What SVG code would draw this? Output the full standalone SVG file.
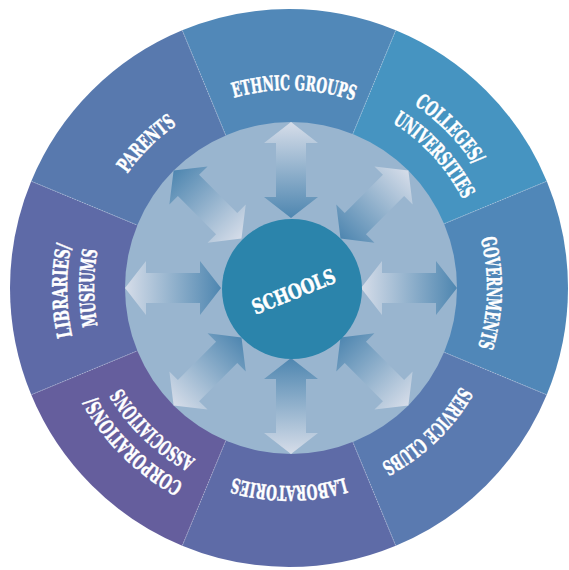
<svg xmlns="http://www.w3.org/2000/svg" xmlns:xlink="http://www.w3.org/1999/xlink" width="569" height="570" viewBox="0 0 569 570">
  <style>
    .lbl { font-family: "DejaVu Serif Condensed", "DejaVu Serif", serif; font-weight: bold; font-stretch: condensed; font-size: 20.5px; fill: #ffffff; stroke: #ffffff; stroke-width: 0.5; text-anchor: middle; }
    .sep { stroke: #d5deec; stroke-opacity: 0.55; stroke-width: 0.8; stroke-dasharray: 1.5 1.2; fill: none; }
  </style>
  <defs>
    <!-- double-loop clockwise circles (start at top) used as text baselines -->
    <path id="c198" d="M289,90 A198,198 0 0 1 289,486 A198,198 0 0 1 289,90 A198,198 0 0 1 289,486 A198,198 0 0 1 289,90"/>
    <path id="c222" d="M289,66 A222,222 0 0 1 289,510 A222,222 0 0 1 289,66 A222,222 0 0 1 289,510 A222,222 0 0 1 289,66"/>
    <path id="c195" d="M289,93 A195,195 0 0 1 289,483 A195,195 0 0 1 289,93 A195,195 0 0 1 289,483 A195,195 0 0 1 289,93"/>
    <!-- double-headed radial arrow, drawn pointing up -->
    <polygon id="arrow" points="291,122 318,143 306,143 306,197 318,197 291,218 264,197 276,197 276,143 264,143"/>
    <linearGradient id="outLight" gradientUnits="userSpaceOnUse" x1="291" y1="122" x2="291" y2="218">
      <stop offset="0" stop-color="#d6dde9"/>
      <stop offset="1" stop-color="#4e86b0"/>
    </linearGradient>
    <linearGradient id="outDark" gradientUnits="userSpaceOnUse" x1="291" y1="122" x2="291" y2="218">
      <stop offset="0" stop-color="#4e86b0"/>
      <stop offset="1" stop-color="#d6dde9"/>
    </linearGradient>
  </defs>

  <!-- outer ring sectors -->
  <g id="ethnic-groups">
    <path d="M289,288 L182.23,30.24 A279,279 0 0 1 395.77,30.24 Z" fill="#5188b8"/>
    <text class="lbl"><textPath href="#c198" startOffset="50.2%" textLength="122" lengthAdjust="spacingAndGlyphs">ETHNIC GROUPS</textPath></text>
  </g>
  <g id="colleges-universities">
    <path d="M289,288 L395.77,30.24 A279,279 0 0 1 546.76,181.23 Z" fill="#4694c1"/>
    <text class="lbl"><textPath href="#c222" startOffset="56.3%" textLength="86" lengthAdjust="spacingAndGlyphs">COLLEGES/</textPath></text>
    <text class="lbl"><textPath href="#c195" startOffset="56.6%" textLength="106" lengthAdjust="spacingAndGlyphs">UNIVERSITIES</textPath></text>
  </g>
  <g id="governments">
    <path d="M289,288 L546.76,181.23 A279,279 0 0 1 546.76,394.77 Z" fill="#5087b8"/>
    <text class="lbl"><textPath href="#c198" startOffset="62.7%" textLength="110" lengthAdjust="spacingAndGlyphs">GOVERNMENTS</textPath></text>
  </g>
  <g id="service-clubs">
    <path d="M289,288 L546.76,394.77 A279,279 0 0 1 395.77,545.76 Z" fill="#5a7ab0"/>
    <text class="lbl"><textPath href="#c198" startOffset="68.9%" textLength="112" lengthAdjust="spacingAndGlyphs">SERVICE CLUBS</textPath></text>
  </g>
  <g id="laboratories">
    <path d="M289,288 L395.77,545.76 A279,279 0 0 1 182.23,545.76 Z" fill="#5e6ba7"/>
    <text class="lbl"><textPath href="#c198" startOffset="75%" textLength="113" lengthAdjust="spacingAndGlyphs">LABORATORIES</textPath></text>
  </g>
  <g id="corporations-associations">
    <path d="M289,288 L182.23,545.76 A279,279 0 0 1 31.24,394.77 Z" fill="#655e9d"/>
    <text class="lbl"><textPath href="#c222" startOffset="81.2%" textLength="126" lengthAdjust="spacingAndGlyphs">CORPORATIONS/</textPath></text>
    <text class="lbl"><textPath href="#c195" startOffset="81.1%" textLength="104" lengthAdjust="spacingAndGlyphs">ASSOCIATIONS</textPath></text>
  </g>
  <g id="libraries-museums">
    <path d="M289,288 L31.24,394.77 A279,279 0 0 1 31.24,181.23 Z" fill="#5e6aa7"/>
    <text class="lbl"><textPath href="#c222" startOffset="87.4%" textLength="92" lengthAdjust="spacingAndGlyphs">LIBRARIES/</textPath></text>
    <text class="lbl"><textPath href="#c195" startOffset="87.5%" textLength="76" lengthAdjust="spacingAndGlyphs">MUSEUMS</textPath></text>
  </g>
  <g id="parents">
    <path d="M289,288 L31.24,181.23 A279,279 0 0 1 182.23,30.24 Z" fill="#5879ae"/>
    <text class="lbl"><textPath href="#c198" startOffset="93.8%" textLength="70" lengthAdjust="spacingAndGlyphs">PARENTS</textPath></text>
  </g>

  <!-- sector dividers -->
  <g id="dividers">
    <line class="sep" x1="225.47" y1="134.64" x2="182.23" y2="30.24"/>
    <line class="sep" x1="352.53" y1="134.64" x2="395.77" y2="30.24"/>
    <line class="sep" x1="442.36" y1="224.47" x2="546.76" y2="181.23"/>
    <line class="sep" x1="442.36" y1="351.53" x2="546.76" y2="394.77"/>
    <line class="sep" x1="352.53" y1="441.36" x2="395.77" y2="545.76"/>
    <line class="sep" x1="225.47" y1="441.36" x2="182.23" y2="545.76"/>
    <line class="sep" x1="135.64" y1="351.53" x2="31.24" y2="394.77"/>
    <line class="sep" x1="135.64" y1="224.47" x2="31.24" y2="181.23"/>
  </g>

  <!-- inner field -->
  <circle id="inner-field" cx="291" cy="288" r="166" fill="#99b5cf"/>

  <!-- two-way links between schools and each partner -->
  <g id="connectors">
    <use href="#arrow" fill="url(#outLight)"/>
    <use href="#arrow" fill="url(#outLight)" transform="rotate(45 291 288)"/>
    <use href="#arrow" fill="url(#outDark)" transform="rotate(90 291 288)"/>
    <use href="#arrow" fill="url(#outLight)" transform="rotate(135 291 288)"/>
    <use href="#arrow" fill="url(#outLight)" transform="rotate(180 291 288)"/>
    <use href="#arrow" fill="url(#outLight)" transform="rotate(225 291 288)"/>
    <use href="#arrow" fill="url(#outLight)" transform="rotate(270 291 288)"/>
    <use href="#arrow" fill="url(#outDark)" transform="rotate(315 291 288)"/>
  </g>

  <!-- hub -->
  <g id="schools">
    <circle cx="292" cy="289" r="70" fill="#2b84ab"/>
    <text class="lbl" x="293" y="299" font-size="27" textLength="88" lengthAdjust="spacingAndGlyphs" transform="rotate(-22 293 290)">SCHOOLS</text>
  </g>
</svg>
